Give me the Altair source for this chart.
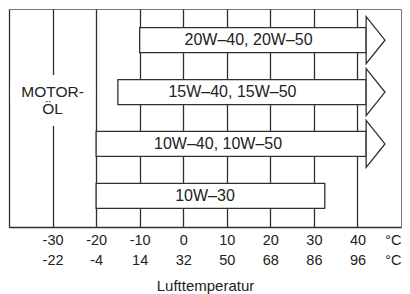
import json
import altair as alt
import pandas as pd

# ---- data ----
oils = ["20W–40, 20W–50", "15W–40, 15W–50", "10W–40, 10W–50", "10W–30"]
start_c = [-10, -15, -20, -20]
end_c = [42, 42, 42, 32.5]
has_arrow = [True, True, True, False]
label_at_c = [15, 11.3, 8, 5]

temps_c = [-30, -20, -10, 0, 10, 20, 30, 40]
labels_c = ["-30", "-20", "-10", "0", "10", "20", "30", "40"]
labels_f = ["-22", "-4", "14", "32", "50", "68", "86", "96"]
unit_labels = ["°C", "°C"]
x_min, x_max = -40, 50
axis_title = "Lufttemperatur"

side_label = ["MOTOR-", "ÖL"]
side_label_at_c = -30
side_row = oils[1]

FONT = "Liberation Sans, Arial, Helvetica, sans-serif"
INK = "#222222"
LINE = "#303030"

df = pd.DataFrame({
    "oil": oils, "start": start_c, "end": end_c,
    "arrow": has_arrow, "label_at": label_at_c,
})
side_df = pd.DataFrame({"oil": [side_row], "x": [side_label_at_c]})

tc = json.dumps(temps_c)
label_expr = (
    f"indexof({tc}, datum.value) < 0 ? {json.dumps(unit_labels, ensure_ascii=False)} : "
    f"[{json.dumps(labels_c)}[indexof({tc}, datum.value)], "
    f"{json.dumps(labels_f)}[indexof({tc}, datum.value)]]"
)

xscale = alt.Scale(domain=[x_min, x_max], nice=False, zero=False)
yscale = alt.Scale(domain=oils, paddingInner=0, paddingOuter=0.1)

x_axis = alt.Axis(
    values=temps_c + [x_max],
    labelExpr=label_expr,
    grid=True,
    gridColor=LINE,
    gridWidth=1.3,
    gridOpacity={"condition": {"test": f"datum.value == {x_max}", "value": 0}, "value": 1},
    ticks=False,
    domain=True,
    domainColor=LINE,
    domainWidth=1.3,
    labelAlign={"condition": {"test": f"datum.value == {x_max}", "value": "right"}, "value": "center"},
    labelOverlap=False,
    labelFlush=False,
    labelBound=False,
    labelPadding=6,
    labelLineHeight=20,
    labelFontSize=14.5,
    labelFont=FONT,
    labelColor=INK,
    title=axis_title,
    titleFont=FONT,
    titleFontSize=15,
    titleFontWeight="normal",
    titleColor=INK,
    titlePadding=12,
)
y_axis = alt.Axis(labels=False, ticks=False, title=None, grid=False,
                  domain=True, domainColor=LINE, domainWidth=1.3)

Y = alt.Y("oil:N", sort=oils, scale=yscale, axis=y_axis)

bars = alt.Chart(df).mark_bar(
    fill="white", stroke=LINE, strokeWidth=1.3, size=25, opacity=1
).encode(
    x=alt.X("start:Q", scale=xscale, axis=x_axis),
    x2="end:Q",
    y=Y,
)

# arrow head: symmetric path, shifted so that its base sits on the shaft end
heads = alt.Chart(df).transform_filter("datum.arrow").mark_point(
    shape="M-0.4,-1L0.4,0L-0.4,1Z", size=2209, filled=True, fill="white",
    stroke=LINE, strokeWidth=1.3, opacity=1, xOffset=9.4
).encode(
    x=alt.X("end:Q", scale=xscale, title=axis_title),
    y=Y,
)

labels = alt.Chart(df).mark_text(
    font=FONT, fontSize=16, color=INK, align="center", baseline="middle"
).encode(
    x=alt.X("label_at:Q", scale=xscale, title=axis_title),
    y=Y,
    text="oil:N",
)

halo = alt.Chart(side_df).mark_text(
    text=side_label, font=FONT, fontSize=15.5, lineHeight=17, align="center",
    baseline="middle", dy=0, fill="white", stroke="white", strokeWidth=24,
    strokeJoin="round",
).encode(
    x=alt.X("x:Q", scale=xscale, title=axis_title),
    y=Y,
)

side = alt.Chart(side_df).mark_text(
    text=side_label, font=FONT, fontSize=15.5, lineHeight=17, align="center",
    baseline="middle", dy=0, color=INK,
).encode(
    x=alt.X("x:Q", scale=xscale, title=axis_title),
    y=Y,
)

chart = alt.layer(bars, heads, labels, halo, side).properties(
    width=392, height=218,
    padding={"left": 1, "top": 1, "right": 1, "bottom": 1},
    background="white",
).configure_view(stroke="#777777", strokeWidth=1)

chart.save("out.html", embed_options={"renderer": "svg", "actions": False})
